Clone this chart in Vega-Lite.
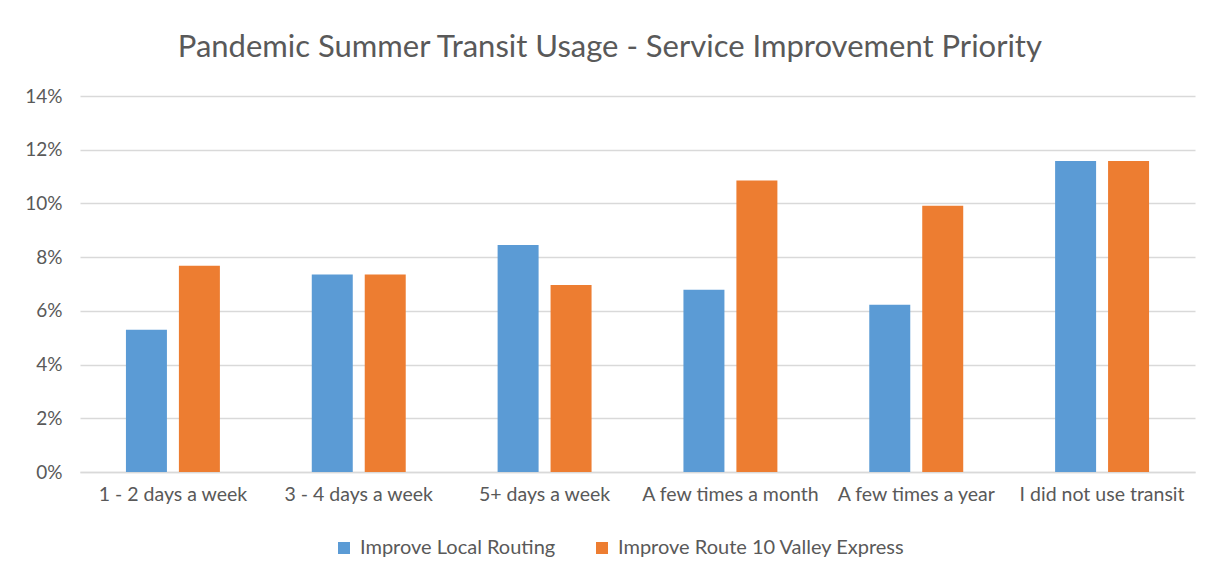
{
  "$schema": "https://vega.github.io/schema/vega-lite/v6.json",
  "width": 1115,
  "height": 376,
  "autosize": {"type": "none"},
  "padding": {"left": 80, "top": 96, "right": 17, "bottom": 108},
  "background": "white",
  "title": {
    "text": "Pandemic Summer Transit Usage - Service Improvement Priority",
    "font": "Lato",
    "fontSize": 31,
    "fontWeight": "normal",
    "color": "#595959",
    "anchor": "middle",
    "frame": "bounds",
    "baseline": "alphabetic",
    "offset": -1
  },
  "data": {
    "values": [
      {"usage": "1 - 2 days a week", "priority": "Improve Local Routing", "share": 0.053},
      {"usage": "1 - 2 days a week", "priority": "Improve Route 10 Valley Express", "share": 0.0768},
      {"usage": "3 - 4 days a week", "priority": "Improve Local Routing", "share": 0.0735},
      {"usage": "3 - 4 days a week", "priority": "Improve Route 10 Valley Express", "share": 0.0735},
      {"usage": "5+ days a week", "priority": "Improve Local Routing", "share": 0.0845},
      {"usage": "5+ days a week", "priority": "Improve Route 10 Valley Express", "share": 0.0696},
      {"usage": "A few times a month", "priority": "Improve Local Routing", "share": 0.0679},
      {"usage": "A few times a month", "priority": "Improve Route 10 Valley Express", "share": 0.1085},
      {"usage": "A few times a year", "priority": "Improve Local Routing", "share": 0.0623},
      {"usage": "A few times a year", "priority": "Improve Route 10 Valley Express", "share": 0.0991},
      {"usage": "I did not use transit", "priority": "Improve Local Routing", "share": 0.1158},
      {"usage": "I did not use transit", "priority": "Improve Route 10 Valley Express", "share": 0.1158}
    ]
  },
  "mark": {"type": "bar"},
  "encoding": {
    "x": {
      "field": "usage",
      "type": "nominal",
      "sort": null,
      "title": null,
      "scale": {"paddingInner": 0.43, "paddingOuter": 0.215},
      "axis": {
        "labelAngle": 0,
        "labelFont": "Lato",
        "labelFontSize": 19.5,
        "labelColor": "#595959",
        "labelPadding": 13,
        "labelLimit": 0,
        "domain": true,
        "domainColor": "#d9d9d9",
        "domainWidth": 1.5,
        "ticks": false,
        "grid": false
      }
    },
    "xOffset": {
      "field": "priority",
      "type": "nominal",
      "scale": {"paddingInner": 0.226, "paddingOuter": 0.113}
    },
    "y": {
      "field": "share",
      "type": "quantitative",
      "title": null,
      "scale": {"domain": [0, 0.14]},
      "axis": {
        "format": ".0%",
        "values": [0, 0.02, 0.04, 0.06, 0.08, 0.1, 0.12, 0.14],
        "labelFont": "Lato",
        "labelFontSize": 19,
        "labelColor": "#595959",
        "labelPadding": 18,
        "domain": false,
        "ticks": false,
        "grid": true,
        "gridColor": "#d9d9d9",
        "gridWidth": 1.5
      }
    },
    "color": {
      "field": "priority",
      "type": "nominal",
      "title": null,
      "scale": {
        "domain": ["Improve Local Routing", "Improve Route 10 Valley Express"],
        "range": ["#5B9BD5", "#ED7D31"]
      },
      "legend": {
        "orient": "none",
        "legendX": 254,
        "legendY": 442,
        "direction": "horizontal",
        "symbolType": "square",
        "symbolSize": 144,
        "symbolStrokeWidth": 0,
        "symbolOpacity": 1,
        "labelFont": "Lato",
        "labelFontSize": 20,
        "labelColor": "#595959",
        "labelOffset": 6,
        "labelLimit": 0,
        "columnPadding": 36
      }
    }
  },
  "config": {
    "view": {"stroke": null}
  }
}
